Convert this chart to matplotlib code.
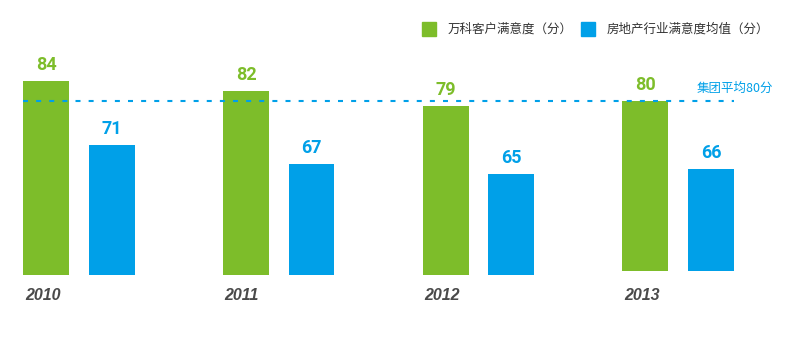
#!/usr/bin/env python3

import numpy as np
import matplotlib
matplotlib.use("Agg")
import matplotlib.pyplot as plt

# ==========================================================
# DATA
# ==========================================================
years = ["2010", "2011", "2012", "2013"]
vanke_scores = [84, 82, 79, 80]
industry_scores = [71, 67, 65, 66]
group_average = 80

series_names = ["万科客户满意度（分）", "房地产行业满意度均值（分）"]
average_label = "集团平均80分"

# ==========================================================
# STYLE
# ==========================================================
GREEN = "#7dbd2a"
BLUE = "#00a0e8"
TEXT_GREY = "#4a4a4a"

CJK = ["Noto Sans CJK SC", "DejaVu Sans"]

Y_FLOOR = 44.4            # bars start above zero
OFFSET = 0.164            # half distance between paired bars
WIDTH = 0.23
LIFT = [0, 0, 0, 0.9]     # last pair sits slightly higher

# ==========================================================
# FIGURE
# ==========================================================
fig = plt.figure(figsize=(7.99, 3.40), dpi=100)
ax = fig.add_axes([0, 65 / 340, 1, 275 / 340])
ax.set_xlim(-0.396, 3.605)
ax.set_ylim(Y_FLOOR, Y_FLOOR + 275 / 4.898)
ax.axis("off")

x = np.arange(len(years))
bottoms = Y_FLOOR + np.array(LIFT)

ax.bar(x - OFFSET, np.array(vanke_scores) - bottoms, width=WIDTH,
       bottom=bottoms, color=GREEN, zorder=2)
ax.bar(x + OFFSET, np.array(industry_scores) - bottoms, width=WIDTH,
       bottom=bottoms, color=BLUE, zorder=2)

# value labels above the bars
for xi, v in zip(x, vanke_scores):
    ax.annotate(str(v), (xi - OFFSET, v), xytext=(0, 5),
                textcoords="offset points", ha="center", va="bottom",
                fontsize=13, fontweight="bold", family="Roboto", color=GREEN)
for xi, v in zip(x, industry_scores):
    ax.annotate(str(v), (xi + OFFSET, v), xytext=(0, 5),
                textcoords="offset points", ha="center", va="bottom",
                fontsize=13, fontweight="bold", family="Roboto", color=BLUE)

# group average dashed line
ax.plot([x[0] - OFFSET - WIDTH / 2, x[-1] + OFFSET + WIDTH / 2],
        [group_average, group_average], color=BLUE, lw=1.5,
        dashes=(2.4, 3.9), zorder=3)
ax.text(3.475, group_average + 1.2, average_label, ha="right", va="bottom",
        fontsize=9, family=CJK, color=BLUE)

# year labels under each pair
for xi, yr in zip(x, years):
    ax.annotate(yr, (xi - OFFSET - WIDTH / 2, Y_FLOOR), xytext=(1, -9),
                textcoords="offset points", ha="left", va="top",
                fontsize=11.5, fontweight="bold", fontstyle="italic",
                family="Liberation Sans", color=TEXT_GREY,
                annotation_clip=False)

# ==========================================================
# LEGEND (top right)
# ==========================================================
for px, color, name in [(422, GREEN, series_names[0]),
                        (581, BLUE, series_names[1])]:
    fig.patches.append(plt.Rectangle((px / 799, 1 - 36 / 340), 14 / 799,
                                     14 / 340, transform=fig.transFigure,
                                     color=color))
    fig.text((px + 26) / 799, 1 - 29 / 340, name, ha="left", va="center",
             fontsize=9, family=CJK, color="#333333")

fig.savefig("out.png", dpi=100)
